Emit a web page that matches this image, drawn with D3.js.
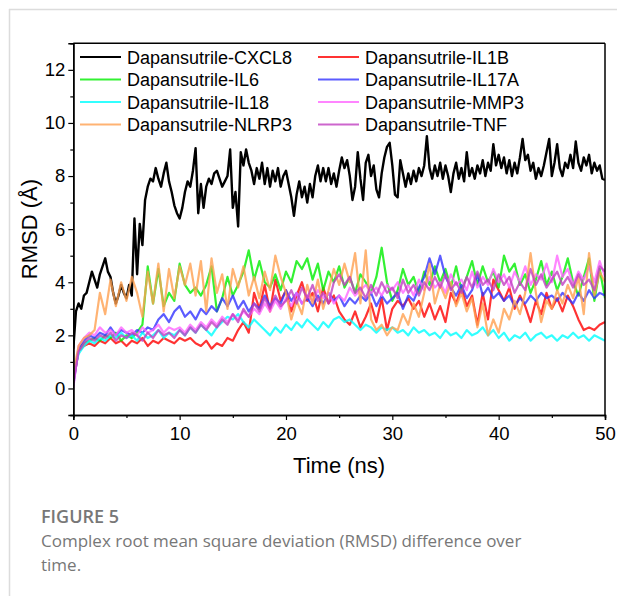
<!DOCTYPE html>
<html>
<head>
<meta charset="utf-8">
<script src="https://d3js.org/d3.v7.min.js"></script>
<style>
  body { margin: 0; background: #fff; }
  svg text { font-family: "Liberation Sans", Arial, sans-serif; }
</style>
</head>
<body>
<div id="chart"></div>
<script>
// size of the page
var width = 617, height = 596;

// sampling step of the traces (ns)
var stepBlack = 0.25, stepColor = 0.5;

// RMSD traces (Å)
var cxcl8 = [
  1.5, 2.9, 3.2, 3.0, 3.5, 3.6, 4.0, 4.4, 4.1, 3.8, 4.3, 4.6, 4.9, 4.4, 4.2, 3.6, 3.2, 3.5, 3.9, 3.6,
  3.4, 3.9, 3.5, 6.4, 4.3, 6.2, 5.4, 7.1, 7.6, 7.9, 7.8, 8.3, 7.9, 7.6, 8.1, 8.5, 7.8, 7.4, 6.9, 6.6,
  6.4, 6.8, 7.4, 7.8, 7.6, 8.2, 9.05, 6.6, 7.7, 6.8, 7.6, 7.9, 7.7, 8.1, 8.2, 7.9, 7.6, 7.8, 8.0, 9.0,
  6.8, 7.4, 6.1, 8.9, 8.4, 9.0, 8.5, 8.2, 7.7, 8.3, 7.9, 8.5, 7.7, 8.3, 7.6, 8.2, 7.8, 8.3, 7.6, 8.0,
  8.2, 7.7, 7.2, 6.5, 7.3, 7.8, 7.2, 7.6, 7.0, 7.7, 7.2, 8.0, 8.4, 7.8, 8.3, 7.8, 8.3, 7.7, 8.1, 7.6,
  8.2, 8.7, 8.3, 8.6, 8.0, 7.1, 7.6, 8.9, 7.9, 7.1, 8.5, 8.8, 8.0, 8.4, 7.5, 7.2, 8.1, 8.7, 9.1, 9.25,
  8.4, 7.3, 7.2, 8.6, 8.1, 7.6, 8.1, 7.7, 8.2, 7.8, 8.3, 8.0, 8.4, 9.5, 8.3, 7.9, 8.4, 8.0, 8.5, 7.9,
  8.4, 8.0, 7.4, 8.1, 8.5, 7.9, 8.3, 7.8, 8.9, 8.0, 8.3, 7.9, 8.4, 8.1, 8.6, 8.0, 8.5, 8.2, 9.2, 8.4,
  8.8, 8.3, 8.7, 8.1, 8.6, 8.0, 8.5, 8.1, 8.7, 9.4, 8.6, 8.8, 8.2, 8.5, 7.9, 8.3, 8.0, 8.4, 8.9, 9.4,
  8.0, 8.5, 9.2, 8.3, 8.0, 8.5, 8.3, 8.8, 8.3, 9.3, 8.5, 8.2, 8.7, 8.4, 8.8, 8.1, 8.5, 8.2, 8.4, 7.9,
  7.85
];
var il1b = [
  0.3, 1.4, 1.6, 1.7, 1.6, 1.8, 1.7, 1.9, 1.7, 1.8,
  1.6, 1.8, 1.7, 1.9, 1.6, 1.8, 1.7, 1.9, 1.8, 1.7,
  1.9, 1.8, 1.9, 1.7, 1.6, 1.8, 1.5, 1.7, 1.6, 1.9,
  1.8, 2.2, 2.5, 2.1, 3.6, 3.0, 3.9, 2.9, 4.1, 3.3,
  3.7, 2.9, 3.5, 4.0, 3.3, 3.6, 2.9, 3.8, 3.2, 3.5,
  2.9, 2.6, 2.4, 2.9, 2.3, 2.7, 3.2, 2.5, 3.4, 2.2,
  3.0, 3.3, 3.1, 3.4, 3.0, 3.3, 2.7, 3.2, 2.6, 3.1,
  2.5, 3.6, 3.2, 3.8, 3.1, 3.5, 2.4, 3.6, 2.6, 4.1,
  3.7, 3.3, 3.8, 3.0, 3.5, 3.1, 2.5, 3.3, 2.8, 3.6,
  3.0, 3.4, 2.9, 3.5, 3.1, 2.6, 2.2, 2.3, 2.2, 2.4,
  2.5
];
var il6 = [
  0.2, 1.5, 1.7, 1.8, 1.9, 1.8, 2.0, 1.9, 2.1, 1.8,
  2.0, 1.9, 2.1, 2.4, 4.6, 3.2, 4.5, 3.1, 3.6, 3.3,
  4.7, 3.9, 3.6, 3.8, 3.5, 3.9, 4.6, 2.9, 3.4, 4.2,
  3.5, 3.9, 4.4, 5.2, 4.1, 4.8, 4.0, 3.8, 4.3, 3.7,
  4.4, 4.0, 4.8, 4.5, 4.9, 4.1, 4.7, 3.7, 4.4, 4.0,
  4.6, 3.8, 4.2, 3.6, 4.3, 4.0, 3.6, 4.2, 5.3, 4.0,
  3.3, 3.7, 4.5, 3.9, 4.2, 3.6, 4.4, 3.9, 4.6, 4.0,
  4.5, 3.8, 4.6, 3.7, 4.2, 4.8, 3.9, 4.6, 4.0, 4.4,
  3.8, 5.0, 4.4, 4.7, 3.9, 4.3, 3.6, 4.1, 4.8, 3.9,
  4.4, 3.7, 4.2, 4.9, 4.0, 3.5, 4.2, 4.9, 3.3, 4.5,
  3.4
];
var il17a = [
  0.1, 1.5, 1.8, 2.0, 1.9, 2.1, 2.0, 2.3, 2.0, 2.2,
  2.1, 2.0, 2.2, 2.1, 2.3, 2.2, 2.6, 2.8, 2.5, 2.9,
  3.1, 2.7, 2.9, 2.6, 3.0, 2.8, 3.1, 2.9, 3.4, 3.1,
  3.5, 3.0, 3.3, 2.9, 3.2, 3.0, 3.5, 3.1, 3.4, 3.2,
  3.7, 3.3, 3.6, 3.2, 3.4, 3.1, 3.5, 3.2, 3.6, 3.3,
  3.5, 3.1, 3.4, 3.2, 3.5, 3.3, 3.6, 3.1, 3.5, 3.2,
  3.4, 3.6, 3.0, 3.5, 3.3, 3.8, 4.2, 4.9, 4.3, 5.0,
  4.2, 3.8, 3.5, 3.9, 3.4, 3.7, 4.3, 3.5, 3.8, 3.4,
  3.6, 3.3, 3.5, 3.1, 3.4, 3.2, 3.5, 3.3, 3.6, 3.4,
  3.5, 3.3, 3.6, 3.4, 3.2, 3.6, 3.3, 3.7, 3.4, 3.6,
  3.5
];
var il18 = [
  0.5, 1.3, 1.6, 1.8, 1.7, 1.9, 1.8, 2.0, 1.9, 2.1,
  1.9, 2.0, 1.8, 2.1, 1.9, 2.0, 2.2, 1.9, 2.1, 2.0,
  2.2, 2.0, 2.3, 2.1, 2.4, 2.2, 2.0, 2.3, 2.5, 2.7,
  2.6, 2.8, 2.5, 2.3, 2.6, 2.4, 2.2, 2.0, 2.3, 2.1,
  2.4, 2.2, 2.5, 2.3, 2.6, 2.4, 2.2, 2.5, 2.3, 2.6,
  2.7, 2.5, 2.6, 2.4, 2.2, 2.4, 2.3, 2.1, 2.3, 2.2,
  2.3, 2.1, 2.2, 2.0, 2.3, 2.1, 2.2, 2.0, 2.1, 1.9,
  2.2, 2.0, 2.1, 1.9, 2.2, 2.0, 2.1, 2.3, 2.0, 2.2,
  1.9, 2.1, 1.8, 2.0, 1.9, 2.1, 1.8, 2.0, 2.1, 1.9,
  2.0, 1.8, 2.0, 1.9, 2.1, 1.9, 2.0, 1.8, 2.0, 1.9,
  1.8
];
var mmp3 = [
  0.0, 1.6, 1.9, 2.1, 2.0, 2.3, 2.1, 2.2, 2.0, 2.3,
  2.1, 2.2, 2.0, 2.3, 2.1, 2.2, 2.4, 2.1, 2.3, 2.2,
  2.3, 2.1, 2.4, 2.2, 2.5, 2.3, 2.6, 2.4, 2.7, 2.5,
  2.8, 2.6, 2.9, 2.7, 3.0, 2.8, 3.2, 2.9, 3.3, 3.0,
  3.4, 3.1, 3.6, 3.2, 3.5, 3.3, 3.7, 3.4, 3.6, 3.2,
  3.5, 3.3, 3.8, 3.5, 3.7, 3.9, 3.6, 3.8, 3.5, 3.9,
  3.7, 4.0, 3.6, 3.9, 3.5, 4.1, 3.7, 4.2, 3.8, 4.0,
  3.6, 4.3, 3.9, 4.1, 3.7, 4.4, 3.8, 4.2, 3.9, 4.5,
  4.0, 4.3, 3.8, 4.4, 4.0, 4.6, 3.9, 4.3, 4.1, 4.7,
  4.0, 5.0, 4.2, 4.5, 3.9, 4.4, 4.1, 4.6, 4.0, 4.8,
  4.2
];
var nlrp3 = [
  0.6, 1.6, 1.9, 2.0, 2.2, 3.6, 2.8, 4.1, 3.1, 4.0,
  3.3, 4.2, 3.6, 2.7, 4.4, 3.2, 4.7, 2.9, 4.5, 3.4,
  4.6, 3.9, 4.7, 3.5, 4.8, 2.9, 4.9, 3.6, 4.3, 3.0,
  4.5, 3.8, 4.6, 3.5, 4.2, 3.4, 4.4, 3.7, 5.0, 4.2,
  3.6, 2.6, 3.3, 2.8, 3.9, 3.2, 4.1, 3.0, 3.7, 4.5,
  3.9, 4.7, 4.0, 5.1, 3.2, 5.2, 2.6, 2.2, 2.4, 2.0,
  2.3, 2.2, 2.8, 2.4, 3.2, 2.7, 3.6, 4.7, 3.2, 3.9,
  3.4, 4.0, 3.1, 3.6, 2.9, 3.4, 2.3, 3.2, 2.0, 2.6,
  2.1, 3.0, 2.6, 3.3, 2.8, 3.6, 5.1, 3.6, 2.5, 3.3,
  3.0, 3.7, 3.2, 3.9, 3.4, 4.2, 2.8, 5.1, 3.5, 4.4,
  4.0
];
var tnf = [
  0.2, 1.4, 1.7, 1.9, 1.8, 2.0, 1.9, 2.1, 1.8, 2.0,
  1.9, 2.1, 2.0, 1.8, 2.1, 1.9, 2.2, 2.0, 2.1, 1.9,
  2.2, 2.0, 2.3, 2.1, 2.4, 2.2, 2.5, 2.3, 2.6, 2.4,
  2.8, 2.5, 3.0, 2.7, 3.2, 2.9, 3.4, 3.0, 3.5, 3.1,
  3.3, 3.7, 3.2, 3.8, 3.4, 3.9, 3.3, 3.6, 3.2, 4.0,
  4.3, 3.9, 4.2, 3.6, 3.8, 3.4, 3.9, 3.5, 4.0, 3.6,
  3.8, 3.4, 4.1, 3.6, 3.9, 3.5, 4.0, 3.7, 4.2, 3.8,
  4.3, 3.7, 4.0, 3.6, 4.2, 3.8, 4.4, 3.9, 4.1, 3.7,
  4.3, 3.9, 4.2, 3.6, 4.0, 3.7, 4.5, 3.9, 4.3, 3.8,
  4.1, 4.4, 3.9, 4.2, 3.8, 4.3, 3.9, 4.1, 3.7, 4.6,
  4.4
];

var names = ["Dapansutrile-CXCL8", "Dapansutrile-IL1B", "Dapansutrile-IL6", "Dapansutrile-IL17A",
             "Dapansutrile-IL18", "Dapansutrile-MMP3", "Dapansutrile-NLRP3", "Dapansutrile-TNF"];
var colors = ["#000000", "#ff0000", "#00ee00", "#3333ff", "#00ffff", "#ff66ff", "#ffa050", "#c040c0"];
var traces = [cxcl8, il1b, il6, il17a, il18, mmp3, nlrp3, tnf];

var xTicks = [0, 10, 20, 30, 40, 50];
var xMinor = [5, 15, 25, 35, 45];
var yTicks = [0, 2, 4, 6, 8, 10, 12];
var yMinor = [-1, 1, 3, 5, 7, 9, 11];

var svg = d3.select("#chart").append("svg")
  .attr("width", width)
  .attr("height", height);

// page frame of the journal layout
svg.append("line").attr("x1", 9).attr("x2", width).attr("y1", 9.5).attr("y2", 9.5)
  .attr("stroke", "#dcdcdc").attr("stroke-width", 1.5);
svg.append("line").attr("x1", 9.5).attr("x2", 9.5).attr("y1", 9).attr("y2", height)
  .attr("stroke", "#dcdcdc").attr("stroke-width", 1.5);

var pLeft = 73.3, pRight = 605, pTop = 43.3, pBottom = 415;

var x = d3.scaleLinear().domain([0, 50]).range([pLeft, pRight]);
var y = d3.scaleLinear().domain([-1, 13]).range([pBottom, pTop]);

svg.append("clipPath").attr("id", "clip")
  .append("rect").attr("x", pLeft).attr("y", pTop)
  .attr("width", pRight - pLeft).attr("height", pBottom - pTop);

// traces
var line = d3.line()
  .x(d => x(d[0]))
  .y(d => y(d[1]));

var plot = svg.append("g").attr("clip-path", "url(#clip)");
traces.forEach(function(vals, i) {
  var step = i == 0 ? stepBlack : stepColor;
  var pts = vals.map((v, j) => [j * step, v]);
  plot.append("path")
    .datum(pts)
    .attr("fill", "none")
    .attr("stroke", colors[i])
    .attr("stroke-width", i == 0 ? 2.4 : 2.2)
    .attr("stroke-opacity", i == 0 ? 1 : 0.8)
    .attr("stroke-linejoin", "round")
    .attr("d", line);
});

// axes
svg.append("g")
  .attr("transform", "translate(0," + pBottom + ")")
  .call(d3.axisBottom(x).tickValues(xTicks).tickSize(5).tickPadding(7));
svg.append("g")
  .attr("transform", "translate(0," + pBottom + ")")
  .call(d3.axisBottom(x).tickValues(xMinor).tickSize(3).tickFormat(""));

svg.append("g")
  .attr("transform", "translate(" + pLeft + ",0)")
  .call(d3.axisLeft(y).tickValues(yTicks).tickSize(5).tickPadding(3));
svg.append("g")
  .attr("transform", "translate(" + pLeft + ",0)")
  .call(d3.axisLeft(y).tickValues(yMinor).tickSize(3).tickFormat(""));

svg.selectAll(".domain").attr("stroke", "#000").attr("stroke-width", 1.5);
svg.selectAll(".tick line").attr("stroke", "#000").attr("stroke-width", 1.2);
svg.selectAll(".tick text")
  .attr("fill", "#000")
  .style("font-size", "18.5px")
  .style("font-family", "'Liberation Sans', Arial, sans-serif");

// top and right frame
svg.append("line").attr("x1", pLeft).attr("x2", pRight).attr("y1", pTop).attr("y2", pTop)
  .attr("stroke", "#000").attr("stroke-width", 1.5);
svg.append("line").attr("x1", pRight).attr("x2", pRight).attr("y1", pTop).attr("y2", pBottom)
  .attr("stroke", "#000").attr("stroke-width", 1.5);

// axis titles
svg.append("text")
  .attr("x", (pLeft + pRight) / 2).attr("y", 473)
  .attr("text-anchor", "middle")
  .style("font-size", "22px")
  .text("Time (ns)");
svg.append("text")
  .attr("transform", "translate(37," + ((pTop + pBottom) / 2) + ") rotate(-90)")
  .attr("text-anchor", "middle")
  .style("font-size", "22px")
  .text("RMSD (Å)");

// legend, two columns
var legend = svg.append("g");
names.forEach(function(n, i) {
  var col = i % 2, row = Math.floor(i / 2);
  var lx = col == 0 ? 80 : 318;
  var ly = 57 + row * 22.5;
  legend.append("line")
    .attr("x1", lx).attr("x2", lx + 41).attr("y1", ly).attr("y2", ly)
    .attr("stroke", colors[i]).attr("stroke-width", 2)
    .attr("stroke-opacity", i == 0 ? 1 : 0.8);
  legend.append("text")
    .attr("x", lx + 47).attr("y", ly + 6.5)
    .style("font-size", "18px")
    .text(n);
});

// caption
svg.append("text")
  .attr("x", 41).attr("y", 523)
  .style("font-family", "'Open Sans', 'Noto Sans', sans-serif")
  .style("font-weight", 600)
  .style("font-size", "18px")
  .attr("fill", "#777")
  .text("FIGURE 5");
svg.append("text")
  .attr("x", 41).attr("y", 547)
  .style("font-family", "'Open Sans', 'Noto Sans', sans-serif")
  .style("font-size", "17px")
  .attr("fill", "#777")
  .text("Complex root mean square deviation (RMSD) difference over");
svg.append("text")
  .attr("x", 41).attr("y", 571)
  .style("font-family", "'Open Sans', 'Noto Sans', sans-serif")
  .style("font-size", "17px")
  .attr("fill", "#777")
  .text("time.");
</script>
</body>
</html>
